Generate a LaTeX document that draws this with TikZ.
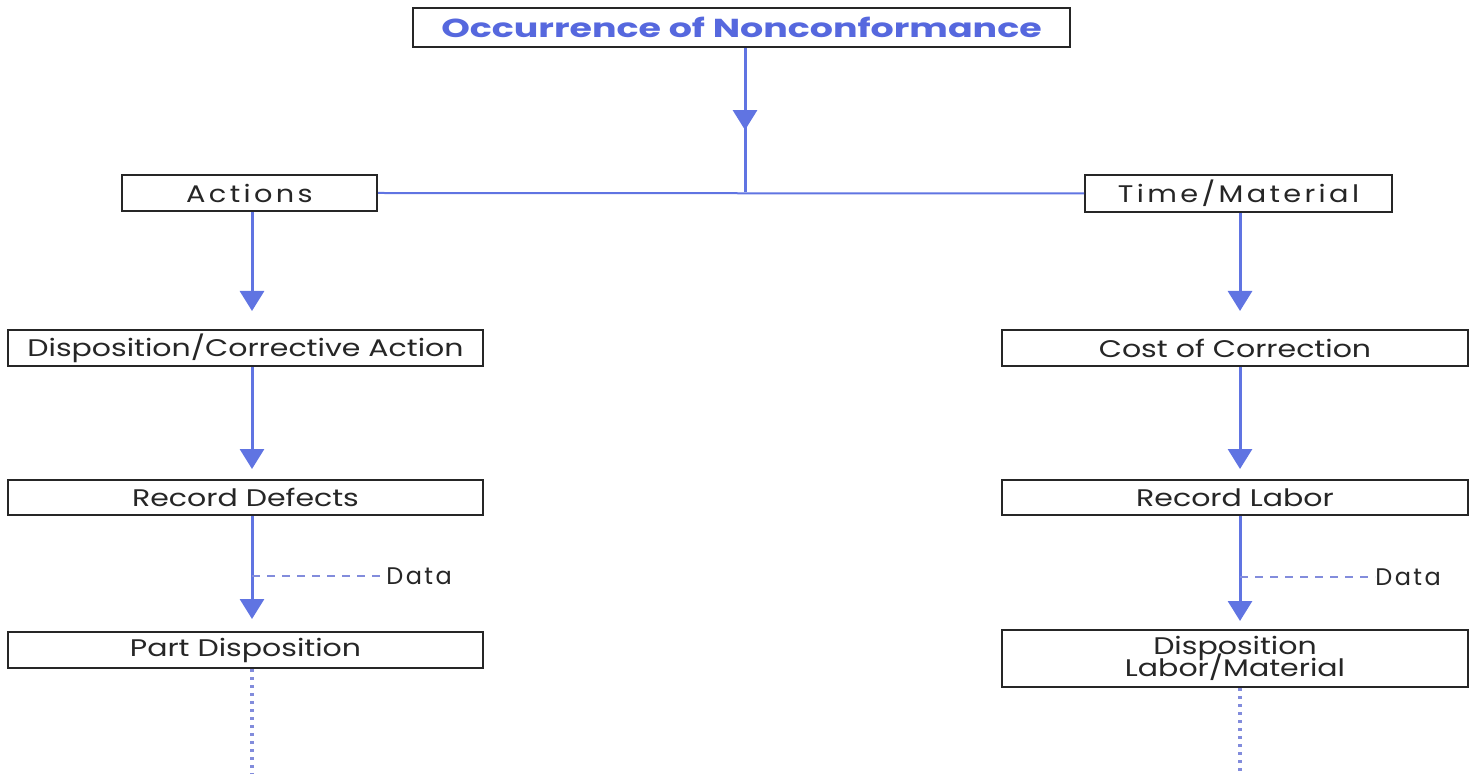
\documentclass[tikz,border=0pt]{standalone}
\usepackage{fontspec}
\setmainfont{Poppins}
\newfontfamily\boxfont[FakeStretch=1.25]{Poppins}
\newfontfamily\spacedfont[FakeStretch=1.2,LetterSpace=14]{Poppins}
\newfontfamily\datafont[LetterSpace=10]{Poppins}
\newfontfamily\titlefont[FakeStretch=1.4]{Poppins Bold}
\usetikzlibrary{arrows.meta,decorations.markings}
\definecolor{flowblue}{RGB}{96,116,226}
\definecolor{titleblue}{RGB}{86,104,222}
\definecolor{dashblue}{RGB}{130,140,220}
\tikzset{
  box/.style={draw=black!85, line width=1pt, fill=white, inner sep=0pt,
    font=\boxfont\fontsize{12pt}{13pt}\selectfont, text=black!85, align=center},
  flow/.style={draw=flowblue, line width=1.5pt, -{Triangle[width=12pt,length=10pt]}},
  link/.style={draw=flowblue, line width=1pt},
  dataline/.style={draw=dashblue, line width=0.7pt, dash pattern=on 4pt off 3.5pt},
  dotline/.style={draw=dashblue, line width=1.6pt, dash pattern=on 1.4pt off 2.6pt},
  datalabel/.style={anchor=west, inner sep=0pt, font=\datafont\fontsize{12pt}{13pt}\selectfont, text=black!85}
}
\begin{document}
\begin{tikzpicture}[x=0.5pt,y=-0.5pt]
\useasboundingbox (0,0) rectangle (1470,774);
% boxes
\node[box, minimum width=328.5pt, minimum height=19.5pt, font=\titlefont\fontsize{13pt}{14pt}\selectfont, text=titleblue] (top) at (741.5,27.5) {Occurrence of Nonconformance};
\node[box, minimum width=127.5pt, minimum height=18pt, font=\spacedfont\fontsize{12pt}{13pt}\selectfont] (act) at (249.5,193) {Actions};
\node[box, minimum width=153.5pt, minimum height=18.5pt, font=\spacedfont\fontsize{12pt}{13pt}\selectfont] (tm) at (1238.5,193.5) {Time/Material};
\node[box, minimum width=237.5pt, minimum height=18pt] (dca) at (245.5,348) {Disposition/Corrective Action};
\node[box, minimum width=233pt, minimum height=18pt] (coc) at (1235,348) {Cost of Correction};
\node[box, minimum width=237.5pt, minimum height=17.5pt] (rd) at (245.5,497.5) {Record Defects};
\node[box, minimum width=233pt, minimum height=17.5pt] (rl) at (1235,497.5) {Record Labor};
\node[box, minimum width=237.5pt, minimum height=18pt] (pd) at (245.5,650) {Part Disposition};
\node[box, minimum width=233pt, minimum height=28.5pt] (dlm) at (1235,658.5) {Disposition\\[-4.5pt]Labor/Material};
% junction below the top box
\coordinate (j) at (745,192);
\draw[link, line width=1.5pt, postaction={decorate},
  decoration={markings, mark=at position 0.57 with {\arrow{Triangle[width=12pt,length=10pt]}}}]
  (top.south -| j) -- (j);
\draw[link] (act.east) -- (tm.west);
% left column
\coordinate (lx) at (252,0);
\draw[flow, shorten >=9pt] (act.south -| lx) -- (lx |- dca.north);
\draw[flow, shorten >=5pt] (dca.south -| lx) -- (lx |- rd.north);
\draw[flow, shorten >=6pt] (rd.south -| lx) -- (lx |- pd.north);
\coordinate (ld) at (252,576);
\node[datalabel] (ldata) at (386,576) {Data};
\draw[dataline] (ld) -- (ldata.west);
\coordinate (lend) at (252,774);
\draw[dotline] (pd.south -| lx) -- (lend);
% right column
\coordinate (rx) at (1240,0);
\draw[flow, shorten >=9pt] (tm.south -| rx) -- (rx |- coc.north);
\draw[flow, shorten >=5pt] (coc.south -| rx) -- (rx |- rl.north);
\draw[flow, shorten >=4pt] (rl.south -| rx) -- (rx |- dlm.north);
\coordinate (rd0) at (1240,577);
\node[datalabel] (rdata) at (1375,577) {Data};
\draw[dataline] (rd0) -- (rdata.west);
\coordinate (rend) at (1240,774);
\draw[dotline] (dlm.south -| rx) -- (rend);
\end{tikzpicture}
\end{document}
